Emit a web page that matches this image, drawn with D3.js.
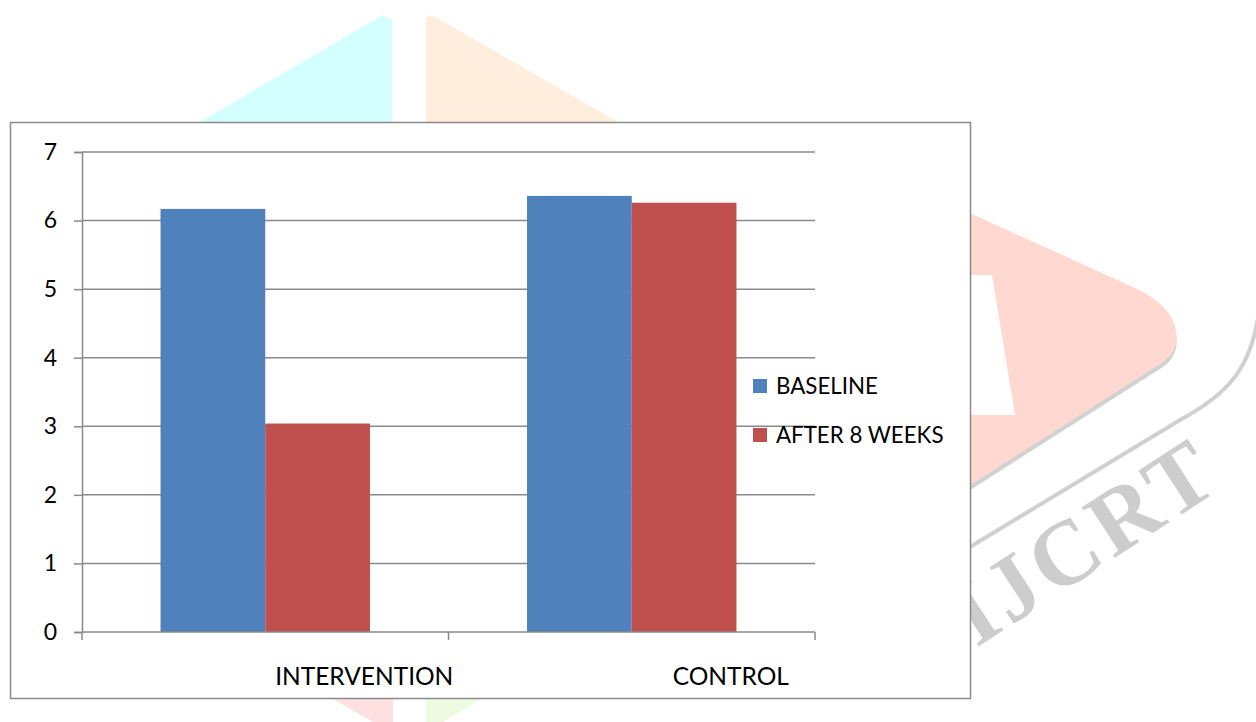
<!DOCTYPE html>
<html>
<head>
<meta charset="utf-8">
<script src="https://cdn.jsdelivr.net/npm/d3@7"></script>
<style>
  html, body { margin: 0; padding: 0; background: #fff; }
  svg { display: block; }
  text { font-family: Lato, "Open Sans", sans-serif; fill: #000; }
</style>
</head>
<body>
<svg id="chart" width="1256" height="722"></svg>
<script>
// Mean scores per group
const categories = ["INTERVENTION", "CONTROL"];
const seriesNames = ["BASELINE", "AFTER 8 WEEKS"];
const baselineValues = [6.17, 6.36];
const after8WeeksValues = [3.04, 6.26];
const yTicks = [0, 1, 2, 3, 4, 5, 6, 7];
const colors = ["#4f81bd", "#c0504d"];

const svg = d3.select("#chart");

// ---- faint journal watermark behind the chart frame ----
const wm = svg.append("g").attr("class", "watermark");
const poly = pts => "M" + pts.map(p => p.join(",")).join("L") + "Z";
wm.append("path").attr("d", poly([[169,140],[383,15],[392,20],[392,140]])).attr("fill", "#d4ffff");
wm.append("path").attr("d", poly([[426,140],[426,18],[432,15],[649,140]])).attr("fill", "#ffeedd");
wm.append("path").attr("d", poly([[300,680],[393,680],[393,722],[373,722]])).attr("fill", "#ffe0e0");
wm.append("path").attr("d", poly([[426,680],[512,680],[443,722],[426,722]])).attr("fill", "#eefbe0");
const arrow = "M950,204 L1135,288 C1182,309 1186,346 1163,362 L950,498 Z";
wm.append("path").attr("d", arrow).attr("fill", "#d2d2d2").attr("transform", "translate(0,5)");
wm.append("path").attr("d", arrow).attr("fill", "#ffd9d1");
wm.append("path").attr("d", poly([[960,275],[992,275],[1015,415],[960,415]])).attr("fill", "#fff");
wm.append("path")
  .attr("d", "M955,556 L1180,420 C1232,392 1250,365 1258,318")
  .attr("fill", "none").attr("stroke", "#d0d0d0").attr("stroke-width", 4);
wm.append("text")
  .attr("transform", "translate(976,648) rotate(-33)")
  .style("font-family", "'Liberation Serif', serif")
  .style("font-weight", "bold")
  .style("font-size", "92px")
  .style("letter-spacing", "5px")
  .style("fill", "#cdcdcd")
  .text("IJCRT");

// ---- chart frame ----
svg.append("rect")
  .attr("x", 10.5).attr("y", 122.5).attr("width", 960).attr("height", 576)
  .attr("fill", "#fff").attr("stroke", "#8a8a8a").attr("stroke-width", 1.5);

const plot = { left: 82, right: 815, top: 152, bottom: 632 };

const y = d3.scaleLinear().domain([0, 7]).range([plot.bottom, plot.top]);
const x0 = d3.scaleBand().domain(categories).range([plot.left, plot.right]).paddingInner(0).paddingOuter(0);
const x1 = d3.scaleBand().domain(seriesNames).range([0, x0.bandwidth()]).paddingInner(0).paddingOuter(0.75);

const axisColor = "#8a8a8a";

// horizontal gridlines
svg.append("g").selectAll("line").data(yTicks.filter(t => t > 0)).join("line")
  .attr("x1", plot.left).attr("x2", plot.right)
  .attr("y1", d => y(d)).attr("y2", d => y(d))
  .attr("stroke", axisColor).attr("stroke-width", 1.5);

// bars
const table = categories.map((c, i) => ({
  category: c,
  values: [
    { series: seriesNames[0], value: baselineValues[i] },
    { series: seriesNames[1], value: after8WeeksValues[i] }
  ]
}));

svg.append("g").selectAll("g").data(table).join("g")
  .attr("transform", d => `translate(${x0(d.category)},0)`)
  .selectAll("rect").data(d => d.values).join("rect")
  .attr("x", d => x1(d.series))
  .attr("width", x1.bandwidth())
  .attr("y", d => y(d.value))
  .attr("height", d => y(0) - y(d.value))
  .attr("fill", (d, i) => colors[i]);

// y axis
const yAxis = svg.append("g")
  .attr("transform", `translate(${plot.left},0)`)
  .call(d3.axisLeft(y).tickValues(yTicks).tickSize(8).tickPadding(17).tickFormat(d3.format("d")));
yAxis.select(".domain").attr("stroke", axisColor).attr("stroke-width", 1.5);
yAxis.selectAll(".tick line").attr("stroke", axisColor).attr("stroke-width", 1.5);
yAxis.selectAll(".tick text").style("font-size", "23px").attr("fill", "#000")
  .style("font-family", "Lato, sans-serif");

// x axis: ticks at the category boundaries
const xAxisG = svg.append("g").attr("transform", `translate(0,${plot.bottom})`);
xAxisG.append("line").attr("x1", plot.left).attr("x2", plot.right)
  .attr("stroke", axisColor).attr("stroke-width", 1.5);
const boundaries = [plot.left, ...categories.map(c => x0(c) + x0.bandwidth())];
xAxisG.selectAll(".bt").data(boundaries).join("line")
  .attr("x1", d => d).attr("x2", d => d).attr("y1", 0).attr("y2", 8)
  .attr("stroke", axisColor).attr("stroke-width", 1.5);

// category labels
xAxisG.selectAll(".cat").data(categories).join("text")
  .attr("x", d => x0(d) + x0.bandwidth() / 2 + 99)
  .attr("y", 53)
  .attr("text-anchor", "middle")
  .style("font-size", "24.5px")
  .text(d => d);

// legend
const legend = svg.append("g").attr("transform", "translate(753,379)");
const li = legend.selectAll("g").data(seriesNames).join("g")
  .attr("transform", (d, i) => `translate(0,${i * 49})`);
li.append("rect").attr("width", 14).attr("height", 14).attr("fill", (d, i) => colors[i]);
li.append("text").attr("x", 23).attr("y", 15).style("font-size", "22.3px").text(d => d);
</script>
</body>
</html>
